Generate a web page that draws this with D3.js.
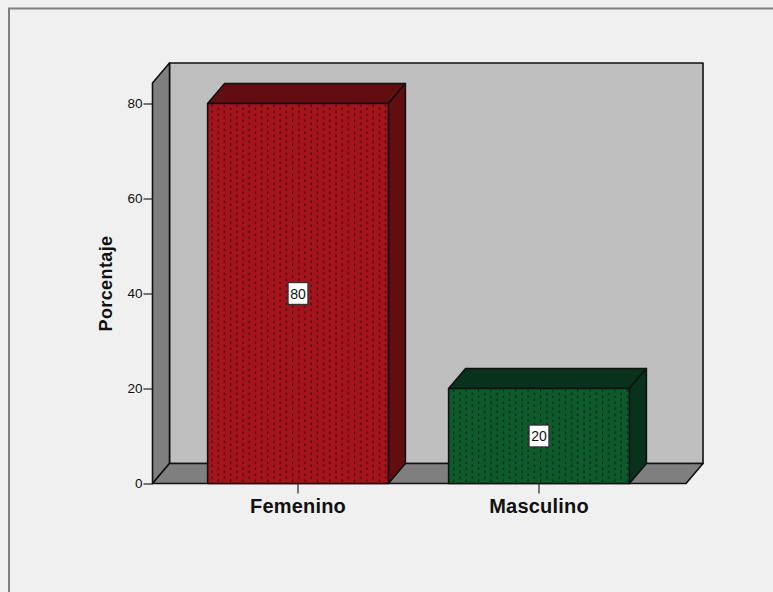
<!DOCTYPE html>
<html>
<head>
<meta charset="utf-8">
<script src="https://cdn.jsdelivr.net/npm/d3@7/dist/d3.min.js"></script>
<style>
html, body { margin: 0; padding: 0; background: #f0f0f0; overflow: hidden; }
svg { display: block; }
text { font-family: "Liberation Sans", Arial, sans-serif; fill: #111; }
</style>
</head>
<body>
<script>
const categories = ["Femenino", "Masculino"];
const percentages = [80, 20];
const faceColors = ["#a3141c", "#0f5a2c"];
const sideColors = ["#620e10", "#08321b"];
const yTicks = [0, 20, 40, 60, 80];
const yTitle = "Porcentaje";

const width = 773, height = 592;
const x0 = 152.5, x1 = 686, yBase = 483.5, yTop = 83;
const depthX = 17, depthY = -20;

const svg = d3.select("body").append("svg").attr("width", width).attr("height", height);

// Stippled fill used on the bar fronts
const defs = svg.append("defs");
categories.forEach((c, i) => {
  const p = defs.append("pattern")
    .attr("id", "dots" + i).attr("patternUnits", "userSpaceOnUse")
    .attr("width", 12.4).attr("height", 6).attr("x", 209).attr("y", 104);
  p.append("rect").attr("width", 12.4).attr("height", 6).attr("fill", faceColors[i]);
  [[2.5, 0.5], [8.7, 3.5]].forEach(([dx, dy]) => {
    p.append("rect").attr("x", dx).attr("y", dy).attr("width", 1).attr("height", 2.6)
      .attr("fill", "#000").attr("opacity", 0.65);
  });
});

const y = d3.scaleLinear().domain([0, 80]).range([yBase, 103.5]);
const x = d3.scaleBand().domain(categories).range([177.5, 659.5])
  .paddingInner(0.25).paddingOuter(0.125);

// Outer chart frame, open on the right
svg.append("path").attr("d", "M9,592V8.5H773")
  .attr("fill", "none").attr("stroke", "#808080").attr("stroke-width", 2);

const edge = { stroke: "#111", "stroke-width": 1.6, "stroke-linejoin": "round" };
function poly(pts, fill) {
  const s = svg.append("path").attr("d", d3.line()(pts) + "Z").attr("fill", fill);
  Object.entries(edge).forEach(([k, v]) => s.attr(k, v));
  return s;
}

// Back wall, side wall and floor of the 3D box
poly([[x0 + depthX, yTop + depthY], [x1 + depthX, yTop + depthY], [x1 + depthX, yBase + depthY], [x0 + depthX, yBase + depthY]], "#bfbfbf");
poly([[x0, yTop], [x0 + depthX, yTop + depthY], [x0 + depthX, yBase + depthY], [x0, yBase]], "#7f7f7f");
poly([[x0, yBase], [x0 + depthX, yBase + depthY], [x1 + depthX, yBase + depthY], [x1, yBase]], "#7f7f7f");

// Bars
categories.forEach((c, i) => {
  const l = x(c), r = l + x.bandwidth(), t = y(percentages[i]);
  poly([[l, t], [l + depthX, t + depthY], [r + depthX, t + depthY], [r, t]], sideColors[i]);
  poly([[r, t], [r + depthX, t + depthY], [r + depthX, yBase + depthY], [r, yBase]], sideColors[i]);
  poly([[l, t], [r, t], [r, yBase], [l, yBase]], `url(#dots${i})`);
});

// Value labels
categories.forEach((c, i) => {
  const cx = x(c) + x.bandwidth() / 2, cy = y(percentages[i] / 2);
  svg.append("rect").attr("x", cx - 10).attr("y", cy - 11).attr("width", 20).attr("height", 22)
    .attr("fill", "#fff").attr("stroke", "#333").attr("stroke-width", 1.4);
  svg.append("text").attr("x", cx).attr("y", cy + 5).attr("text-anchor", "middle")
    .attr("font-size", 14).attr("fill", "#222").text(percentages[i]);
});

// Axes
const yAxis = d3.axisLeft(y).tickValues(yTicks).tickSize(9).tickPadding(1);
const gy = svg.append("g").attr("transform", `translate(${x0},0)`).call(yAxis);
gy.select(".domain").remove();
gy.selectAll("line").attr("stroke", "#333").attr("stroke-width", 1.3);
gy.selectAll("text").attr("font-size", 13.5).attr("fill", "#222")
  .attr("font-family", '"Liberation Sans", Arial, sans-serif');

const xAxis = d3.axisBottom(x).tickSize(10).tickPadding(5);
const gx = svg.append("g").attr("transform", `translate(0,${yBase})`).call(xAxis);
gx.select(".domain").remove();
gx.selectAll("line").attr("stroke", "#333").attr("stroke-width", 1.3);
gx.selectAll("text").attr("font-size", 20).attr("font-weight", "bold").attr("letter-spacing", 0.2)
  .attr("font-family", '"Liberation Sans", Arial, sans-serif');

svg.append("text").attr("transform", "translate(112,283.5) rotate(-90)")
  .attr("text-anchor", "middle").attr("font-size", 18).attr("font-weight", "bold")
  .attr("letter-spacing", 0.4).text(yTitle);
</script>
</body>
</html>
